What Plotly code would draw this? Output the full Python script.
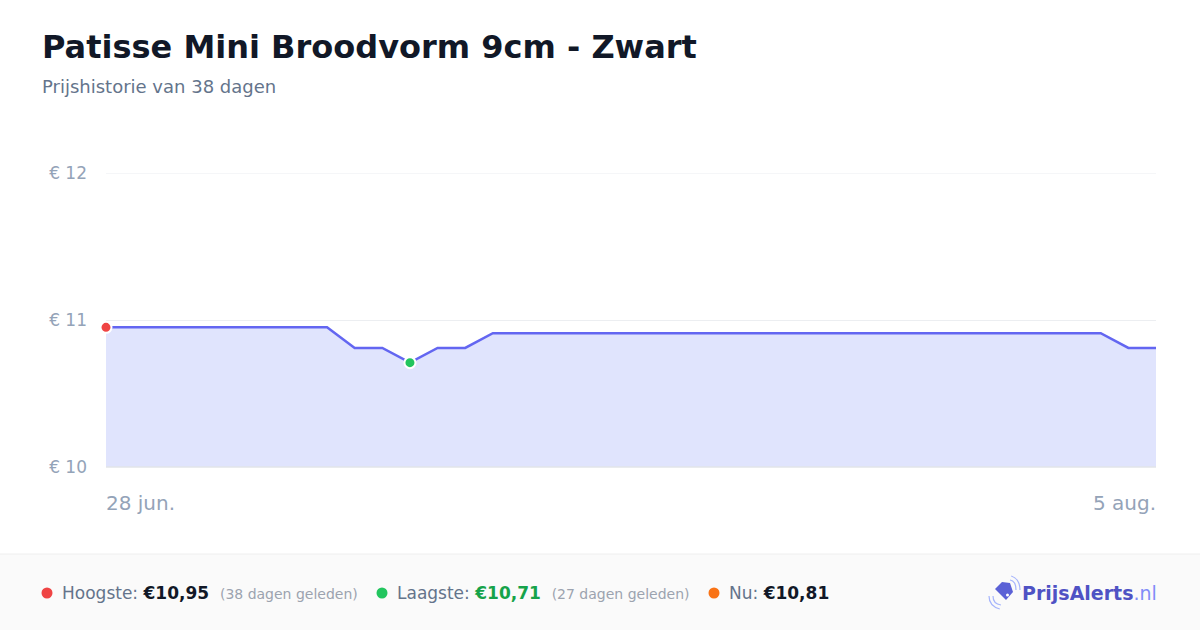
import pandas as pd
import plotly.graph_objects as go

# price history, 28 jun - 5 aug (39 daily points)
dates = pd.date_range("2024-06-28", "2024-08-05", freq="D")
prices = [10.95] * 9 + [10.81, 10.81, 10.71, 10.81, 10.81] + [10.91] * 23 + [10.81, 10.81]

x_labels = ["28 jun.", "5 aug."]
y_ticks = [10, 11, 12]
y_tick_labels = ["€ 10", "€ 11", "€ 12"]

stats_labels = ["Hoogste:", "Laagste:", "Nu:"]
stats_values = ["€10,95", "€10,71", "€10,81"]
stats_notes = ["(38 dagen geleden)", "(27 dagen geleden)", ""]

W, H = 1200, 630
L, R, T, B = 106, 1156, 173, 467
FONT = "DejaVu Sans"


def px(x):
    return (x - L) / (R - L)


def py(y):
    return (B - y) / (B - T)


def path(points):
    return "M " + " L ".join(f"{px(a)},{py(b)}" for a, b in points) + " Z"


fig = go.Figure()

fig.add_trace(go.Scatter(
    x=dates, y=prices, mode="lines",
    line=dict(color="#6366f1", width=2.5),
    fill="tozeroy", fillcolor="#e0e4fd",
    hoverinfo="skip",
))

i_max = prices.index(max(prices))
i_min = prices.index(min(prices))
fig.add_trace(go.Scatter(
    x=[dates[i_max], dates[i_min]], y=[prices[i_max], prices[i_min]],
    mode="markers",
    marker=dict(size=11, color=["#ef4444", "#22c55e"], line=dict(color="white", width=2)),
    cliponaxis=False, hoverinfo="skip",
))

shapes = []
annotations = []

# footer band
shapes.append(dict(type="rect", xref="paper", yref="paper",
                   x0=px(0), x1=px(W), y0=py(554), y1=py(H),
                   fillcolor="#fafafa", line=dict(width=0), layer="below"))
shapes.append(dict(type="line", xref="paper", yref="paper",
                   x0=px(0), x1=px(W), y0=py(554), y1=py(554),
                   line=dict(color="#eeeeee", width=1)))
# top grid line + bottom axis line
shapes.append(dict(type="line", xref="paper", yref="y", x0=0, x1=1, y0=y_ticks[-1], y1=y_ticks[-1],
                   line=dict(color="#eceef1", width=1), layer="below"))
shapes.append(dict(type="line", xref="paper", yref="paper", x0=0, x1=1, y0=0, y1=0,
                   line=dict(color="#e2e4e9", width=1.5)))

# title + subtitle
annotations.append(dict(text="<b>Patisse Mini Broodvorm 9cm - Zwart</b>", xref="paper", yref="paper",
                        x=px(40), y=py(47), xanchor="left", yanchor="middle", showarrow=False,
                        font=dict(family=FONT, size=32, color="#111827")))
annotations.append(dict(text="Prijshistorie van 38 dagen", xref="paper", yref="paper",
                        x=px(40), y=py(87), xanchor="left", yanchor="middle", showarrow=False,
                        font=dict(family=FONT, size=18, color="#64748b")))

# x labels at the ends
annotations.append(dict(text=x_labels[0], x=dates[0], xref="x", yref="paper", y=py(503),
                        xanchor="left", yanchor="middle", showarrow=False, xshift=-2,
                        font=dict(family=FONT, size=20, color="#94a3b8")))
annotations.append(dict(text=x_labels[1], x=dates[-1], xref="x", yref="paper", y=py(503),
                        xanchor="right", yanchor="middle", showarrow=False, xshift=2,
                        font=dict(family=FONT, size=20, color="#94a3b8")))

# footer stats
dot_colors = ["#ef4444", "#22c55e", "#f97316"]
value_colors = ["#111827", "#16a34a", "#111827"]
dot_x = [47, 382, 714]
fy = 593
for i in range(3):
    cx = dot_x[i]
    shapes.append(dict(type="circle", xref="paper", yref="paper",
                       x0=px(cx - 5.5), x1=px(cx + 5.5), y0=py(fy - 5.5), y1=py(fy + 5.5),
                       fillcolor=dot_colors[i], line=dict(width=0)))
    txt = f"{stats_labels[i]} <b><span style='color:{value_colors[i]}'>{stats_values[i]}</span></b>"
    if stats_notes[i]:
        txt += f"  <span style='font-size:14px;color:#9ca3af'>{stats_notes[i]}</span>"
    annotations.append(dict(text=txt, xref="paper", yref="paper", x=px(cx + 13), y=py(fy),
                            xanchor="left", yanchor="middle", showarrow=False,
                            font=dict(family=FONT, size=17, color="#64748b")))

# logo: tag icon with signal arcs
shapes.append(dict(type="path", xref="paper", yref="paper",
                   path=path([(995, 589), (1002, 582), (1010, 583), (1013, 592), (1006, 600)]),
                   fillcolor="#5b61d6", line=dict(width=0)))
shapes.append(dict(type="circle", xref="paper", yref="paper",
                   x0=px(1006), x1=px(1009), y0=py(596.5), y1=py(593.5),
                   fillcolor="white", line=dict(width=0)))
for r in (0, 4):
    shapes.append(dict(type="path", xref="paper", yref="paper",
                       path=(f"M {px(1010 + r * 0.3)},{py(580 - r)} "
                             f"Q {px(1016 + r)},{py(581 - r * 0.5)} {px(1016 + r)},{py(590)}"),
                       line=dict(color="#a5b4fc", width=1.2)))
    shapes.append(dict(type="path", xref="paper", yref="paper",
                       path=(f"M {px(993 - r)},{py(596)} "
                             f"Q {px(993 - r)},{py(604 + r * 0.5)} {px(1001 - r * 0.3)},{py(605 + r)}"),
                       line=dict(color="#a5b4fc", width=1.2)))
annotations.append(dict(text="<b>PrijsAlerts</b><span style='color:#818cf8'>.nl</span>",
                        xref="paper", yref="paper", x=px(1159), y=py(593),
                        xanchor="right", yanchor="middle", showarrow=False,
                        font=dict(family=FONT, size=19, color="#4f52c4")))

fig.update_layout(
    width=W, height=H,
    margin=dict(l=L, r=W - R, t=T, b=H - B),
    paper_bgcolor="white", plot_bgcolor="white",
    showlegend=False,
    shapes=shapes, annotations=annotations,
    xaxis=dict(range=[dates[0], dates[-1]], showticklabels=False, showgrid=False,
               zeroline=False, showline=False, ticks=""),
    yaxis=dict(range=[10, 12], tickvals=y_ticks, ticktext=y_tick_labels,
               gridcolor="#eceef1", gridwidth=1, zeroline=False, showline=False,
               ticks="", ticklabelstandoff=18,
               tickfont=dict(family=FONT, size=17, color="#94a3b8")),
)

fig.write_html("out.html", config={"displayModeBar": False},
               post_script="document.body.style.margin='0';")
